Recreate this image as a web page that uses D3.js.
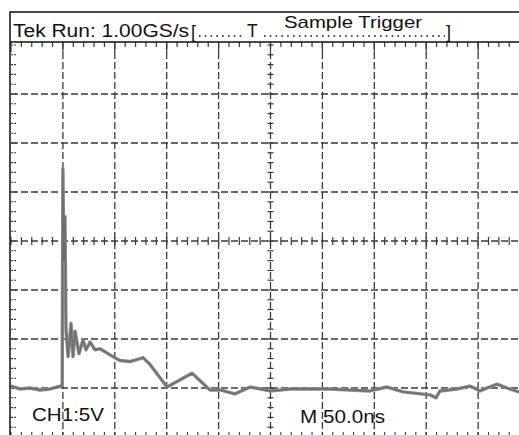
<!DOCTYPE html>
<html>
<head>
<meta charset="utf-8">
<title>Tek Run trace</title>
<script src="https://cdn.jsdelivr.net/npm/d3@7"></script>
<style>
body { margin: 0; background: #fff; }
text { font-family: "Liberation Sans", Arial, sans-serif; fill: #111; }
</style>
</head>
<body>
<script>
// CH1 trace: time in ns, level in volts (5 V/div, 50 ns/div)
var timeNs = [0, 8.7, 18.3, 27.9, 37.6, 44.3, 48.3, 49.3, 50, 51, 52, 53, 55, 57.8, 59.7, 61.7, 65.5, 69.4, 72.3, 76.1, 80.9,
              85.7, 98.3, 105, 114.6, 124.3, 127.2, 133.9, 150.3, 174.4, 191.7, 201.4, 215.8, 230.3, 249.5, 268.8,
              288, 307.3, 326.6, 345.9, 362.2, 377.7, 403.7, 409.4, 413.3, 429.7, 442.2, 451.8, 468.2, 477.8, 489.4, 500];
var voltsCh1 = [-14.8, -15.1, -15.0, -15.2, -15.1, -14.9, -14.8, -14.6, 7.4, -2.0, 2.5, -9.1, -11.8, -8.4, -11.8, -9.2, -11.5, -10.1, -11.1, -10.3, -11.1,
                -11.0, -11.8, -12.2, -12.3, -12.0, -11.9, -12.6, -14.9, -13.5, -15.2, -15.2, -15.6, -14.9, -15.3, -15.1,
                -15.1, -15.1, -15.2, -15.3, -14.9, -15.4, -15.7, -16.0, -15.3, -15.1, -14.8, -15.3, -14.6, -15.0, -15.4, -15.2];

var xDivs = [0, 50, 100, 150, 200, 250, 300, 350, 400, 450, 500];
var yDivs = [-20, -15, -10, -5, 0, 5, 10, 15, 20];

var w = 519, h = 435;

var svg = d3.select("body").append("svg")
    .attr("width", w)
    .attr("height", h);

var x = d3.scaleLinear().domain([0, 500]).range([11, 530]);
var y = d3.scaleLinear().domain([-20, 20]).range([437, 45]);

var grid = svg.append("g").attr("stroke", "#3a3a3a").attr("fill", "none");

// dashed divisions
grid.selectAll("line.v")
    .data(xDivs.slice(1, -1))
    .enter().append("line")
    .attr("x1", function(d) { return x(d); })
    .attr("x2", function(d) { return x(d); })
    .attr("y1", 42)
    .attr("y2", h)
    .attr("stroke-width", 1.3)
    .attr("stroke-dasharray", "7,3");

grid.selectAll("line.h")
    .data(yDivs.slice(1, -1))
    .enter().append("line")
    .attr("x1", 11)
    .attr("x2", w)
    .attr("y1", function(d) { return y(d); })
    .attr("y2", function(d) { return y(d); })
    .attr("stroke-width", 1.3)
    .attr("stroke-dasharray", "7,3");

// minor ticks, 5 per division
var minorX = d3.range(0, 501, 10);
var minorY = d3.range(-20, 20.1, 1);

grid.selectAll("line.tt")
    .data(minorX)
    .enter().append("line")
    .attr("x1", function(d) { return x(d); })
    .attr("x2", function(d) { return x(d); })
    .attr("y1", 42)
    .attr("y2", function(d) { return d % 50 == 0 ? 52 : 47; })
    .attr("stroke-width", 1.2);

grid.selectAll("line.bt")
    .data(minorX)
    .enter().append("line")
    .attr("x1", function(d) { return x(d); })
    .attr("x2", function(d) { return x(d); })
    .attr("y1", 432)
    .attr("y2", h)
    .attr("stroke-width", 1.1);

grid.selectAll("line.lt")
    .data(minorY)
    .enter().append("line")
    .attr("x1", 11)
    .attr("x2", 17)
    .attr("y1", function(d) { return y(d); })
    .attr("y2", function(d) { return y(d); })
    .attr("stroke-width", 1.1)
    .attr("stroke-dasharray", "2,1");

// center cross ticks
grid.selectAll("line.cx")
    .data(minorX)
    .enter().append("line")
    .attr("x1", function(d) { return x(d); })
    .attr("x2", function(d) { return x(d); })
    .attr("y1", y(0) - 4)
    .attr("y2", y(0) + 4)
    .attr("stroke-width", 1.2);

grid.selectAll("line.cy")
    .data(minorY)
    .enter().append("line")
    .attr("x1", x(250) - 3)
    .attr("x2", x(250) + 3)
    .attr("y1", function(d) { return y(d); })
    .attr("y2", function(d) { return y(d); })
    .attr("stroke-width", 1.2);

// trace
var line = d3.line()
    .x(function(d, i) { return x(timeNs[i]); })
    .y(function(d) { return y(d); });

svg.append("path")
    .datum(voltsCh1)
    .attr("d", line)
    .attr("fill", "none")
    .attr("stroke", "#8a8a8a")
    .attr("stroke-width", 3.4)
    .attr("stroke-linejoin", "round");

svg.append("path")
    .datum(voltsCh1)
    .attr("d", line)
    .attr("fill", "none")
    .attr("stroke", "#6e6e6e")
    .attr("stroke-width", 1.4)
    .attr("stroke-linejoin", "round");

// frame
svg.append("path")
    .attr("d", "M10," + h + "V12H" + w + "M10,42H" + w)
    .attr("fill", "none")
    .attr("stroke", "#111")
    .attr("stroke-width", 1.5);

// header: dotted leaders drawn as lines
svg.append("line").attr("x1", 199).attr("x2", 244).attr("y1", 36).attr("y2", 36)
    .attr("stroke", "#111").attr("stroke-width", 1.6).attr("stroke-dasharray", "1.6,4.2");
svg.append("line").attr("x1", 264).attr("x2", 445).attr("y1", 36).attr("y2", 36)
    .attr("stroke", "#111").attr("stroke-width", 1.6).attr("stroke-dasharray", "1.6,4.2");

svg.append("text").attr("x", 13).attr("y", 37).attr("font-size", 17.5)
    .attr("textLength", 176).attr("lengthAdjust", "spacingAndGlyphs")
    .text("Tek Run: 1.00GS/s");
svg.append("text").attr("x", 191).attr("y", 38).attr("font-size", 18).text("[");
svg.append("text").attr("x", 247).attr("y", 37).attr("font-size", 17.5).text("T");
svg.append("text").attr("x", 284).attr("y", 28).attr("font-size", 17)
    .attr("textLength", 138).attr("lengthAdjust", "spacingAndGlyphs")
    .text("Sample Trigger");
svg.append("text").attr("x", 446).attr("y", 38).attr("font-size", 18).text("]");

// readouts
svg.append("text").attr("x", 32).attr("y", 421).attr("font-size", 18)
    .attr("textLength", 72).attr("lengthAdjust", "spacingAndGlyphs")
    .text("CH1:5V");
svg.append("text").attr("x", 300).attr("y", 423).attr("font-size", 18)
    .attr("textLength", 85).attr("lengthAdjust", "spacingAndGlyphs")
    .text("M 50.0ns");
</script>
</body>
</html>
